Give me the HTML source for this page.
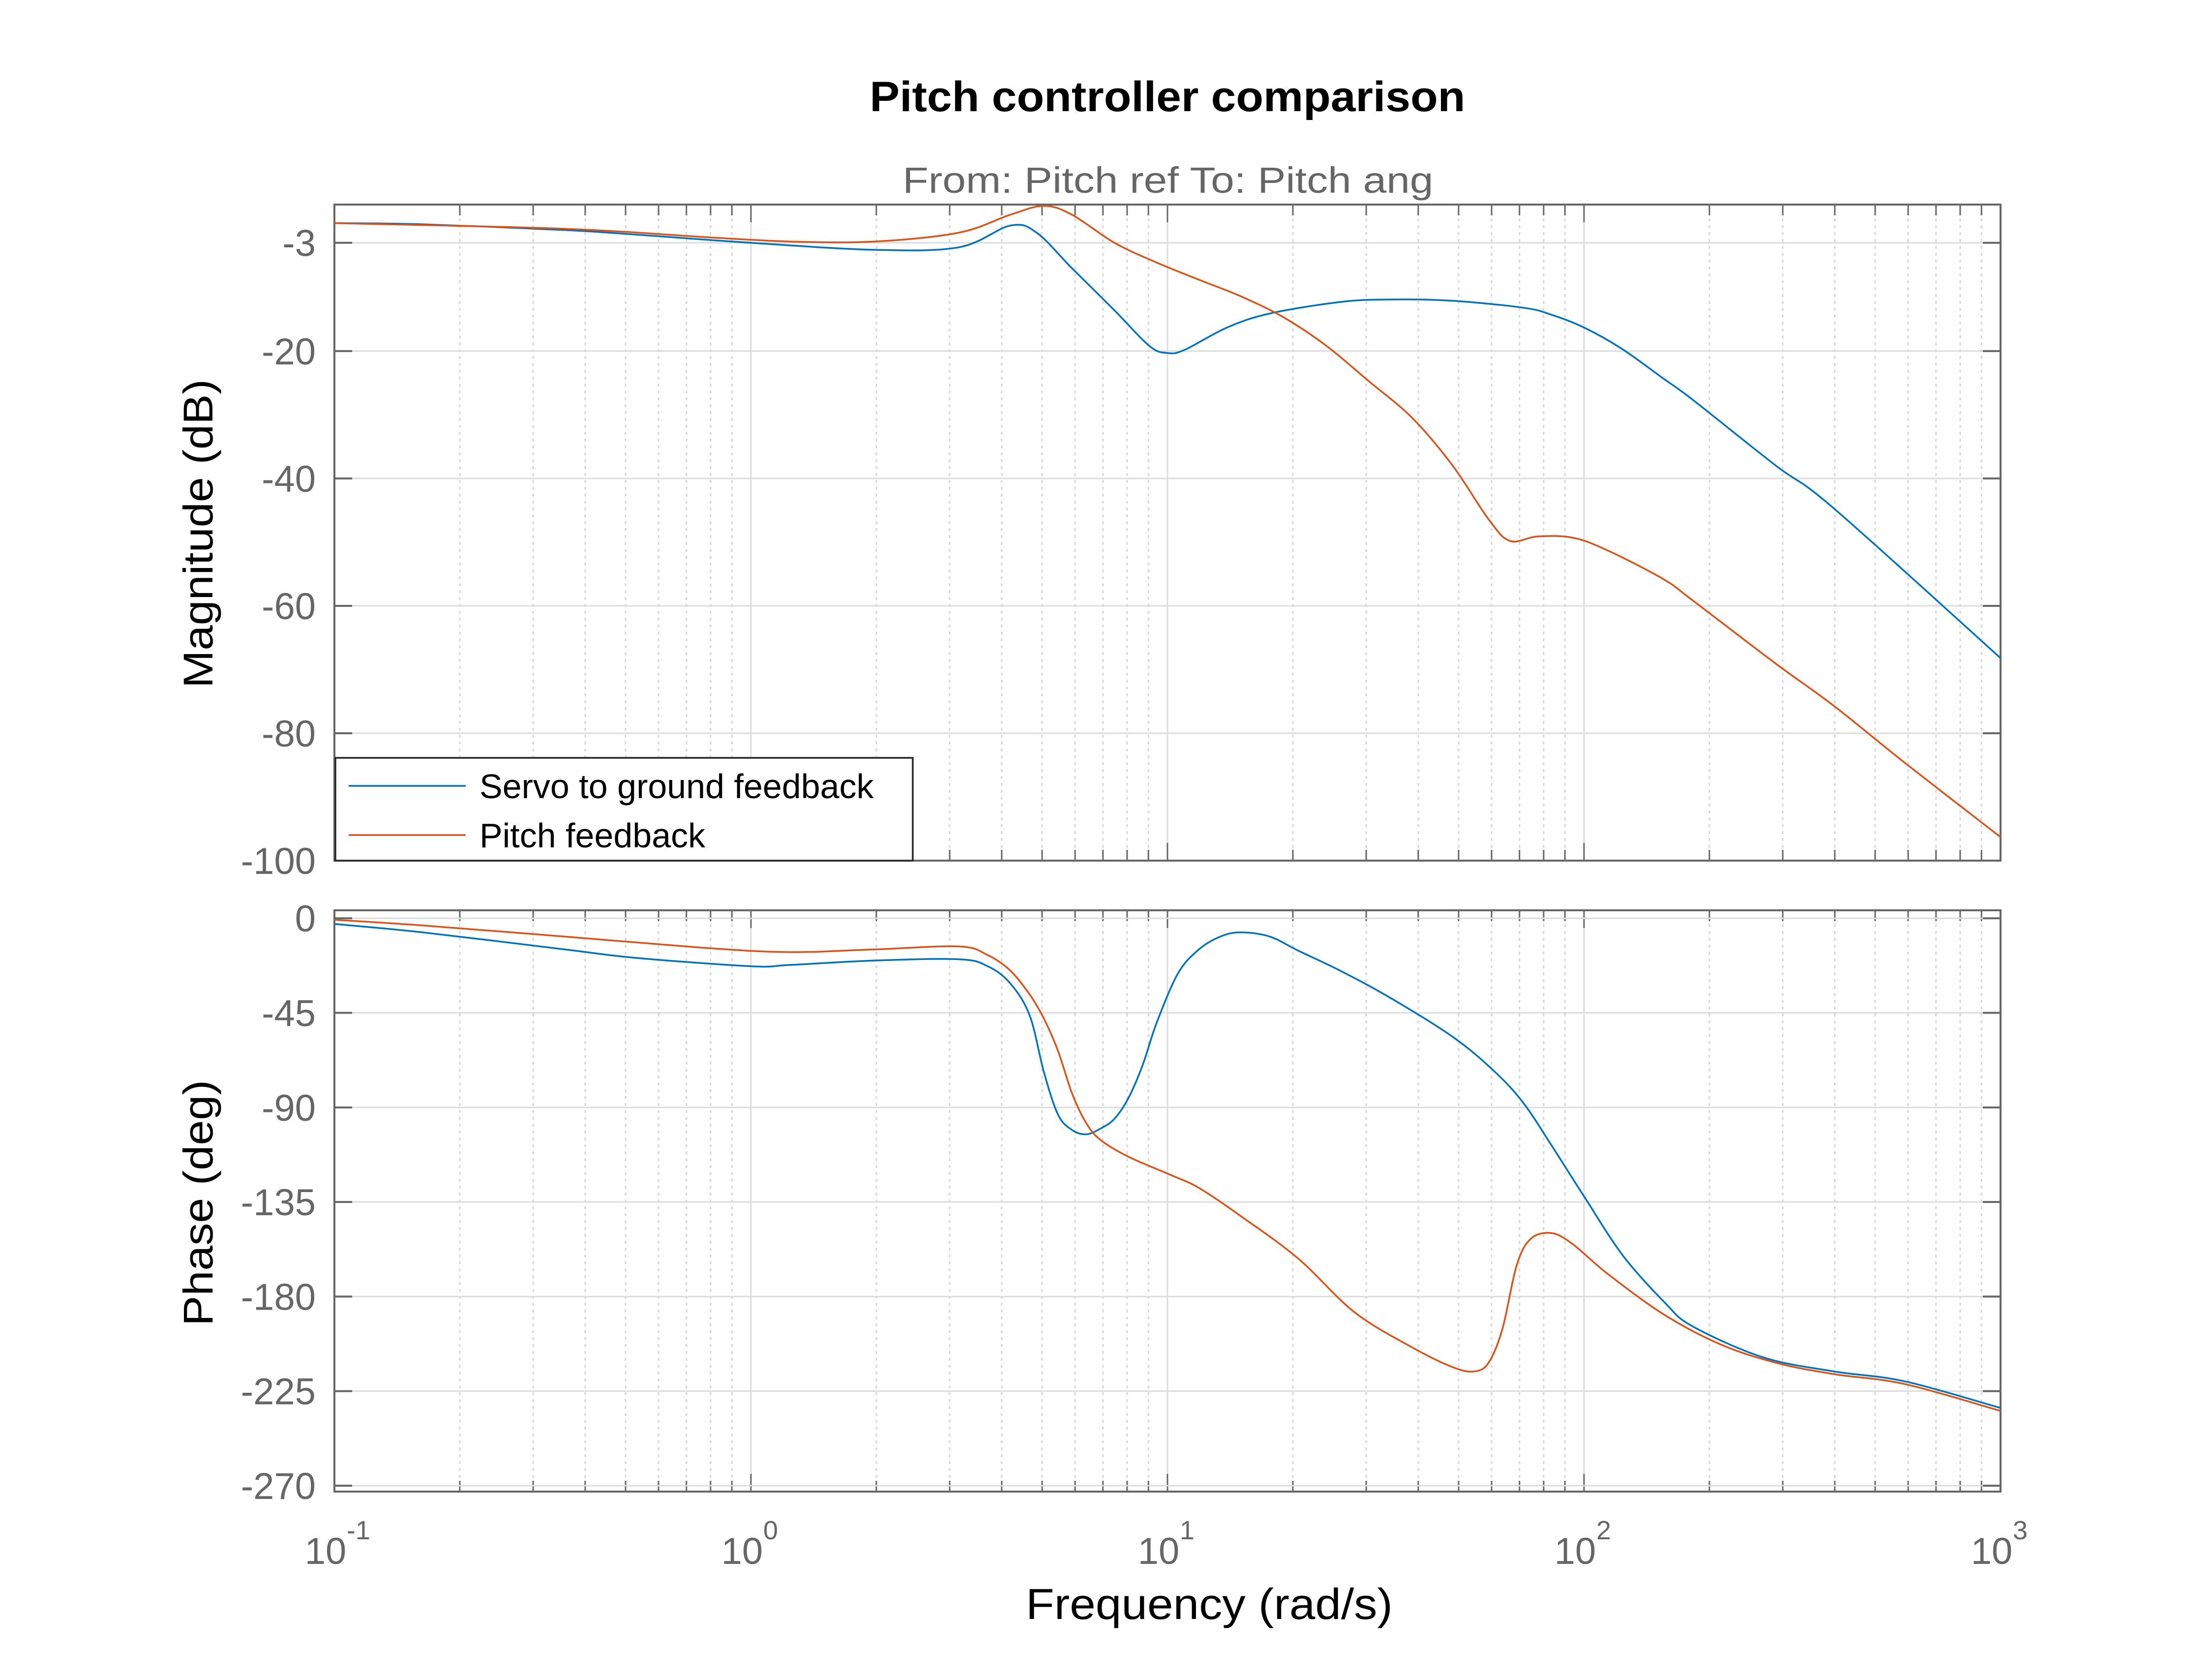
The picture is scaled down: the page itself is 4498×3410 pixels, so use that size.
<!DOCTYPE html>
<html><head><meta charset="utf-8"><style>
html,body{margin:0;padding:0;background:#fff;}
svg{display:block;font-family:"Liberation Sans",Arial,sans-serif;}
</style></head><body>
<svg id="chart" width="4498" height="3410" viewBox="0 0 4498 3410" xmlns="http://www.w3.org/2000/svg">
<rect width="4498" height="3410" fill="#fff"/>
<text x="2374" y="226" text-anchor="middle" font-size="86" font-weight="bold" fill="#000" textLength="1211" lengthAdjust="spacingAndGlyphs">Pitch controller comparison</text>
<text x="2375" y="392" text-anchor="middle" font-size="74" fill="#666" textLength="1079" lengthAdjust="spacingAndGlyphs">From: Pitch ref  To: Pitch ang</text>
<text transform="translate(432,1085) rotate(-90)" text-anchor="middle" font-size="84" fill="#000" textLength="628" lengthAdjust="spacingAndGlyphs">Magnitude (dB)</text>
<text transform="translate(432,2446) rotate(-90)" text-anchor="middle" font-size="84" fill="#000" textLength="500" lengthAdjust="spacingAndGlyphs">Phase (deg)</text>
<text x="2459" y="3292" text-anchor="middle" font-size="88" fill="#000" textLength="746" lengthAdjust="spacingAndGlyphs">Frequency  (rad/s)</text>
<g id="g"></g>
</svg>
<script>
// ---- data ----
const blueMagFreq = [0.1,0.163,0.357,0.527,1.0,1.98,3.16,4.19,4.85,5.9,7.46,9.05,10,11.0,13.9,17.6,25.9,34.1,48.4,71.6,83.6,100,123,155,182,289,398,1000];
const blueMagDb   = [0.1,-0.1,-1.0,-1.7,-3.0,-4.1,-3.7,-0.3,-1.4,-7.0,-13.6,-19.2,-20.3,-19.8,-16.3,-14.1,-12.3,-11.9,-12.1,-13.2,-14.3,-16.3,-19.6,-24.3,-27.6,-38.0,-44.7,-68.2];
const orangeMagFreq = [0.1,0.357,0.776,1.24,1.98,3.16,4.19,5.05,5.9,7.46,9.42,11.9,15.0,19.0,24.1,30.4,38.7,48.4,59.0,66.4,77.4,94.0,114,155,182,289,398,588,1000];
const orangeMagDb   = [0.1,-0.8,-2.1,-2.8,-2.8,-1.4,1.4,2.8,1.4,-3.0,-6.1,-8.8,-11.4,-14.7,-19.2,-24.7,-30.5,-38.0,-46.4,-49.8,-49.1,-49.3,-51.3,-55.8,-59.1,-69.1,-75.7,-84.6,-96.3];
const bluePhFreq = [0.1,0.163,0.357,0.527,1.0,1.24,1.98,3.16,3.70,4.19,4.67,5.05,5.46,5.9,6.38,6.9,7.46,8.07,8.72,9.42,10.6,11.9,13.4,15.0,17.6,20.6,25.9,34.1,48.4,61.2,71.6,83.6,100,124,156,182,269,398,588,1000];
const bluePhDeg  = [-2.7,-6.7,-14.8,-18.8,-22.8,-22.2,-20.1,-19.5,-22.8,-30.9,-46.3,-73.2,-93.4,-100.7,-102.8,-100.1,-95.4,-85.3,-69.8,-49.7,-26.2,-14.8,-8.7,-6.7,-8.7,-15.4,-24.8,-37.6,-56.4,-73.2,-88,-108.1,-132.3,-160.5,-182.7,-194.1,-208.9,-215.6,-220.3,-233];
const orangePhFreq = [0.1,0.163,0.357,0.776,1.24,1.98,3.16,3.70,4.19,4.67,5.05,5.46,5.9,6.38,6.9,8.07,10.2,11.9,15.0,20.6,28.1,38.7,48.4,54.5,59.0,63.7,68.9,74.5,83.6,94.0,114,156,213,289,398,588,1000];
const orangePhDeg  = [-0.7,-3.4,-8.7,-14.1,-16.1,-14.8,-13.4,-17.5,-24.8,-36.3,-47.7,-63.1,-83.3,-97.4,-105.4,-113.5,-122.2,-128.3,-141.7,-161.9,-187.4,-204.2,-213.6,-215.6,-211.5,-195.4,-165.2,-152.5,-149.8,-155.1,-169.2,-188.7,-202.8,-211.5,-216.9,-221.6,-234.4];
const magTicks = [-3,-20,-40,-60,-80,-100];
const phaseTicks = [0,-45,-90,-135,-180,-225,-270];
const xDecades = [-1,0,1,2,3];

// ---- layout ----
const L=680,R=4068;
const magTop=416,magBot=1750,magMax=3,magMin=-100;
const phTop=1851,phBot=3033,phMax=3.8,phMin=-272.8;
const NS="http://www.w3.org/2000/svg";
const g=document.getElementById('g');
function X(w){return L+(Math.log10(w)+1)/4*(R-L);}
function YM(v){return magTop+(magMax-v)/(magMax-magMin)*(magBot-magTop);}
function YP(v){return phTop+(phMax-v)/(phMax-phMin)*(phBot-phTop);}
function el(t,a){const e=document.createElementNS(NS,t);for(const k in a)e.setAttribute(k,a[k]);g.appendChild(e);return e;}

function axes(top,bot,ticks,Y,name){
  for(let d=-1;d<3;d++){for(let m=2;m<=9;m++){const x=X(m*Math.pow(10,d));
    const gl=el('line',{x1:x,x2:x,y1:top,y2:bot,stroke:'#d6d6d6','stroke-width':3,'stroke-dasharray':'6,8'});
    
    
    el('line',{x1:x,x2:x,y1:top,y2:top+22,stroke:'#666','stroke-width':3});
    el('line',{x1:x,x2:x,y1:bot,y2:bot-22,stroke:'#666','stroke-width':3});
  }}
  xDecades.forEach(d=>{const x=X(Math.pow(10,d));
    const gl=el('line',{x1:x,x2:x,y1:top,y2:bot,stroke:'#dcdcdc','stroke-width':3});
    
    
    el('line',{x1:x,x2:x,y1:top,y2:top+36,stroke:'#666','stroke-width':3});
    el('line',{x1:x,x2:x,y1:bot,y2:bot-36,stroke:'#666','stroke-width':3});
  });
  ticks.forEach(v=>{const y=Y(v);
    const gl=el('line',{x1:L,x2:R,y1:y,y2:y,stroke:'#dcdcdc','stroke-width':3});
    
    
    el('line',{x1:L,x2:L+36,y1:y,y2:y,stroke:'#666','stroke-width':4});
    el('line',{x1:R,x2:R-36,y1:y,y2:y,stroke:'#666','stroke-width':4});
    const t=el('text',{x:L-38,y:y+27,'text-anchor':'end','font-size':76,fill:'#666'});
    t.textContent=String(v);
    
    
  });
  const b=el('rect',{x:L,y:top,width:R-L,height:bot-top,fill:'none',stroke:'#666','stroke-width':4});
  
  
}
function line(fs,vs,Y,col,name){
  const P=fs.map((f,i)=>[X(f),Y(vs[i])]);
  let d='M'+P[0][0].toFixed(1)+','+P[0][1].toFixed(1);
  for(let i=0;i<P.length-1;i++){
    const p0=P[Math.max(0,i-1)],p1=P[i],p2=P[i+1],p3=P[Math.min(P.length-1,i+2)];
    const c1x=p1[0]+(p2[0]-p0[0])/6,c1y=p1[1]+(p2[1]-p0[1])/6;
    const c2x=p2[0]-(p3[0]-p1[0])/6,c2y=p2[1]-(p3[1]-p1[1])/6;
    d+=' C'+c1x.toFixed(1)+','+c1y.toFixed(1)+' '+c2x.toFixed(1)+','+c2y.toFixed(1)+' '+p2[0].toFixed(1)+','+p2[1].toFixed(1);
  }
  const e=el('path',{d:d,fill:'none',stroke:col,'stroke-width':3.5,'stroke-linejoin':'round'});
  
  
}
axes(magTop,magBot,magTicks,YM,'magnitude');
axes(phTop,phBot,phaseTicks,YP,'phase');
line(blueMagFreq,blueMagDb,YM,'#0072BD','servo-magnitude-line');
line(orangeMagFreq,orangeMagDb,YM,'#D95319','pitch-magnitude-line');
line(bluePhFreq,bluePhDeg,YP,'#0072BD','servo-phase-line');
line(orangePhFreq,orangePhDeg,YP,'#D95319','pitch-phase-line');

xDecades.forEach(d=>{const x=X(Math.pow(10,d));
  const t=el('text',{x:x-18,y:3180,'text-anchor':'middle','font-size':76,fill:'#666'});
  t.textContent='10';
  
  
  const s=el('text',{x:x+25,y:3130,'text-anchor':'start','font-size':54,fill:'#666'});
  s.textContent=String(d);
  
  
});

const lg=el('rect',{x:682,y:1541,width:1174,height:209,fill:'#fff',stroke:'#262626','stroke-width':3.5});


[['Servo to ground feedback','#0072BD',1598],['Pitch feedback','#D95319',1698]].forEach(([lab,c,y])=>{
  const l=el('line',{x1:709,x2:947,y1:y,y2:y,stroke:c,'stroke-width':3.5});
  
  
  const t=el('text',{x:975,y:y+25,'font-size':70,fill:'#000'});
  t.textContent=lab;
  
  
});
</script>
</body></html>
